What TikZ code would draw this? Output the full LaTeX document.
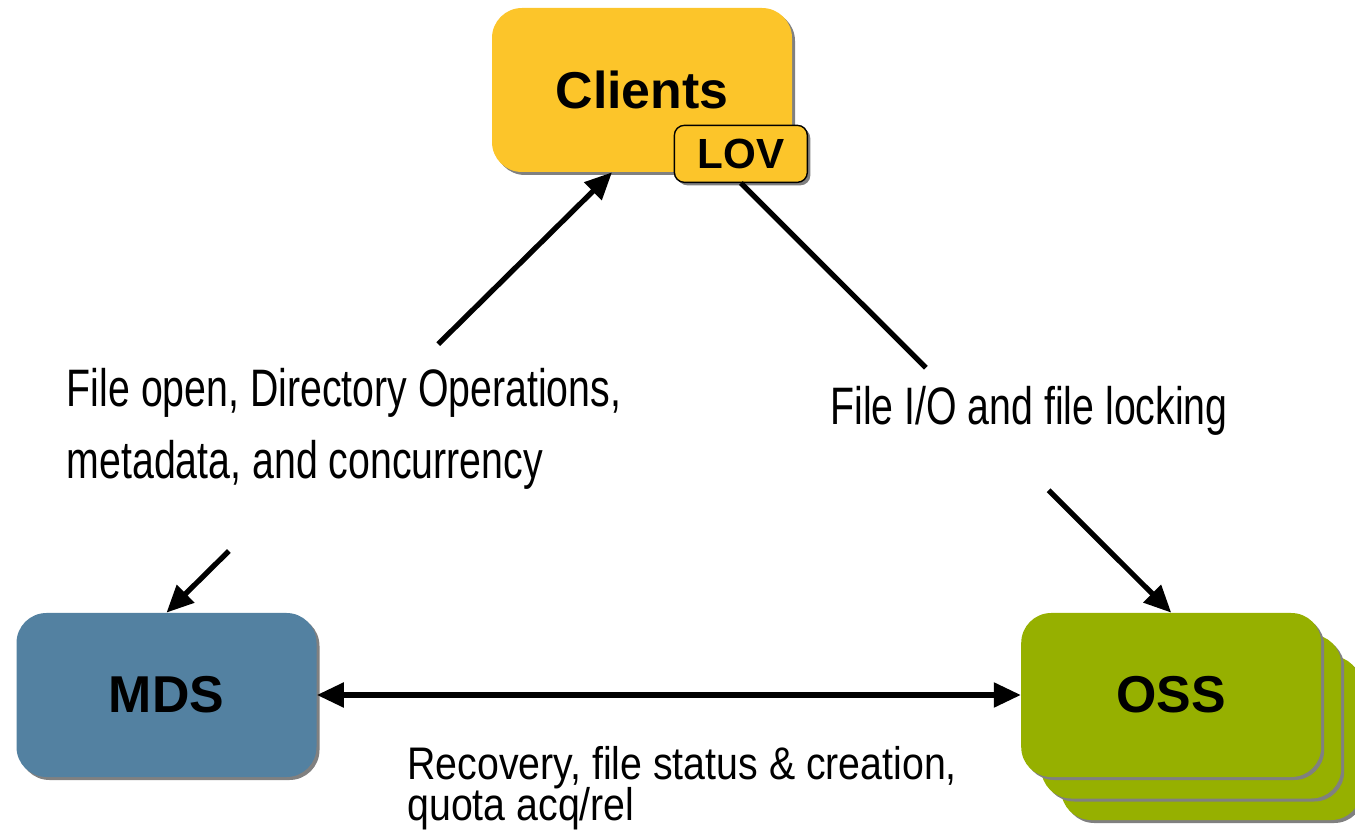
\documentclass[tikz,border=0pt]{standalone}
\usepackage{fontspec}
\setmainfont{Liberation Sans}
\newfontfamily\narrowfont[FakeStretch=0.745]{Liberation Sans}
\newfontfamily\notefont[FakeStretch=0.86]{Liberation Sans}
\usetikzlibrary{positioning, calc, shadows, arrows.meta}
\definecolor{clientyellow}{RGB}{252,197,42}
\definecolor{mdsblue}{RGB}{83,129,161}
\definecolor{ossgreen}{RGB}{150,176,0}

\begin{document}
\begin{tikzpicture}[box/.style={rectangle, rounded corners=0.6cm, minimum width=6cm, minimum height=3.28cm, font=\bfseries\fontsize{29.5}{35}\selectfont, drop shadow={shadow xshift=0.06cm, shadow yshift=-0.06cm, fill=black!50, opacity=1}},
tag/.style={rectangle, rounded corners=0.2cm, draw=black, line width=0.8pt, fill=clientyellow, minimum width=2.66cm, minimum height=1.14cm, font=\bfseries\fontsize{24}{28}\selectfont, drop shadow={shadow xshift=0.06cm, shadow yshift=-0.06cm, fill=black!50, opacity=1}},
note/.style={inner sep=0pt, anchor=base west, align=left, font=\narrowfont\fontsize{30}{41.4}\selectfont},
link/.style={line width=3pt, -{Triangle[length=0.54cm, width=0.48cm]}}]
\useasboundingbox (0,0) rectangle (27.1,16.62);

\node[box, fill=mdsblue] (mds) at (3.33,2.72) {MDS};
\node[box, fill=ossgreen, right=14.08cm of mds, xshift=0.8cm, yshift=-0.86cm] (oss3) {};
\node[box, fill=ossgreen, right=14.08cm of mds, xshift=0.4cm, yshift=-0.43cm] (oss2) {};
\node[box, fill=ossgreen, right=14.08cm of mds] (oss) {OSS};
\node[box, fill=clientyellow] (clients) at (12.84,14.82) {Clients};
\node[tag] (lov) at ([xshift=-1.03cm, yshift=0.37cm]clients.south east) {LOV};

% base is the last line
\node[note] (text1) at (1.33,7.04) {File open, Directory Operations,\\metadata, and concurrency};
\node[note] (text2) at (16.6,8.12) {File I/O and file locking};
\node[note, font=\notefont\fontsize{26}{22.7}\selectfont] (text3) at (8.14,0.22) {Recovery, file status \& creation,\\[-2pt]quota acq/rel};

\coordinate (cl) at ([xshift=-0.6cm]clients.south);
\coordinate (a1) at ($(cl)!0.39!(mds.north)$);
\coordinate (a2) at ($(cl)!0.86!(mds.north)$);
\coordinate (b1) at ($(lov.south)!0.43!(oss.north)$);
\coordinate (b2) at ($(lov.south)!0.715!(oss.north)$);

\draw[link] (a1) -- (cl);
\draw[link] (a2) -- (mds.north);
\draw[line width=3pt] (lov.south) -- (b1);
\draw[link] (b2) -- (oss.north);
\draw[link, {Triangle[length=0.54cm, width=0.48cm]}-{Triangle[length=0.54cm, width=0.48cm]}] (mds.east) -- (oss.west);

\end{tikzpicture}
\end{document}
